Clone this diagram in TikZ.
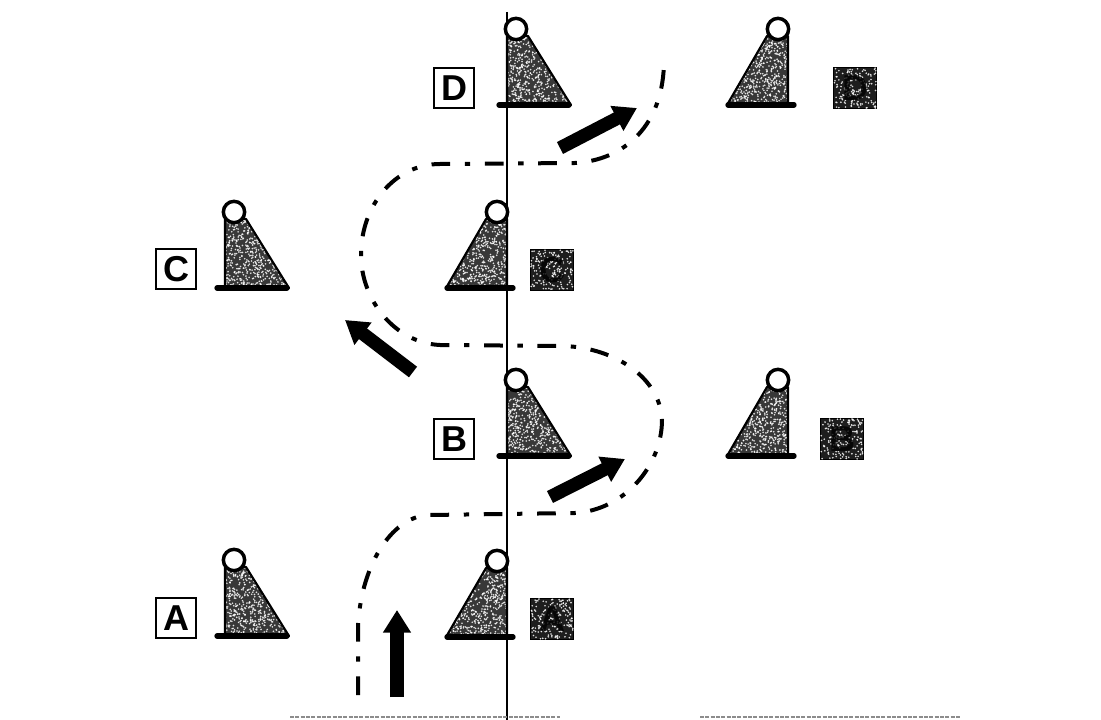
\documentclass[tikz,border=0pt]{standalone}
\usepackage{fontspec}
\setmainfont{Liberation Sans}
\usetikzlibrary{arrows.meta}
\definecolor{stip}{HTML}{383838}
\definecolor{stipdark}{HTML}{1E1E1E}
\newcommand{\stipple}[5]{% x0 y0 w h count
  \foreach \i in {1,...,#5}{
    \pgfmathsetmacro{\sx}{#1+rnd*#3}
    \pgfmathsetmacro{\sy}{#2+rnd*#4}
    \fill[white,opacity=0.85] (\sx,\sy) circle[radius=0.9];
  }
}
\tikzset{
  x=0.75pt,y=-0.75pt,
  wbox/.style={draw=black,line width=1.5pt,fill=white,minimum width=30pt,minimum height=29.5pt,inner sep=0pt,font=\fontsize{27}{27}\bfseries\selectfont,text=black},
  dbox/.style={draw=black,line width=0.8pt,fill=stipdark,minimum width=32pt,minimum height=30.5pt,inner sep=0pt},
  dlabel/.style={inner sep=0pt,font=\fontsize{27}{27}\bfseries\selectfont,text=black,text opacity=0.8},
  pin/.style={circle,draw=black,line width=2.6pt,fill=white,minimum size=16pt,inner sep=0pt},
  conebody/.style={draw=black,line width=1.6pt,line join=round},
  conebase/.style={draw=black,line width=4pt,line cap=round},
  track/.style={draw=black,line width=3pt,dash pattern=on 14pt off 11pt on 4pt off 11pt},
  bigarrow/.style={draw=black,line width=10pt,-{Triangle[length=17pt,width=20pt]}},
  axisline/.style={draw=black,line width=1.1pt},
  scan/.style={draw=black!45,line width=1pt,dash pattern=on 3pt off 1pt},
  leftcone/.pic={
    \fill[stip] (0,-69) -- (21,-69) -- (64,0) -- (0,0) -- cycle;
    \begin{scope}
      \clip (0,-69) -- (21,-69) -- (64,0) -- (0,0) -- cycle;
      \stipple{0}{-69}{64}{69}{640}
    \end{scope}
    \path[conebody] (0,-69) -- (21,-69) -- (64,0) -- (0,0) -- cycle;
    \path[conebase] (-8,0) -- (62,0);
    \node[pin] (-pin) at (9,-76) {};
  },
  rightcone/.pic={
    \fill[stip] (0,-69) -- (-21,-69) -- (-61,0) -- (0,0) -- cycle;
    \begin{scope}
      \clip (0,-69) -- (-21,-69) -- (-61,0) -- (0,0) -- cycle;
      \stipple{-61}{-69}{61}{69}{640}
    \end{scope}
    \path[conebody] (0,-69) -- (-21,-69) -- (-61,0) -- (0,0) -- cycle;
    \path[conebase] (-60,0) -- (6,0);
    \node[pin] (-pin) at (-10,-76) {};
  },
}
\begin{document}
\begin{tikzpicture}
\pgfmathsetseed{4242}
\useasboundingbox (0,0) rectangle (1101,720);
\coordinate (axtop) at (507,12);
\coordinate (axbot) at (507,720);
\draw[axisline] (axtop) -- (axbot);
\coordinate (scanAa) at (290,717); \coordinate (scanAb) at (560,717);
\coordinate (scanBa) at (700,717); \coordinate (scanBb) at (960,717);
\draw[scan] (scanAa) -- (scanAb);
\draw[scan] (scanBa) -- (scanBb);

\pic (cD) at (507,105) {leftcone};
\pic (cB) at (507,456) {leftcone};
\pic (cC) at (225,288) {leftcone};
\pic (cA) at (225,636) {leftcone};
\pic (rD) at (788,105) {rightcone};
\pic (rB) at (788,456) {rightcone};
\pic (rC) at (507,288) {rightcone};
\pic (rA) at (507,637) {rightcone};

\node[wbox] (wD) at (454,88) {D};
\node[wbox] (wB) at (454,439) {B};
\node[wbox] (wC) at (176,269) {C};
\node[wbox] (wA) at (176,618) {A};

\node[dbox] (dD) at (855,88) {};
\stipple{834}{68}{42}{40}{170}
\node[dlabel] (lD) at (855,88) {D};
\node[dbox] (dB) at (842,439) {};
\stipple{821}{419}{42}{40}{170}
\node[dlabel] (lB) at (842,439) {B};
\node[dbox] (dC) at (552,270) {};
\stipple{531}{250}{42}{40}{170}
\node[dlabel] (lC) at (552,270) {C};
\node[dbox] (dA) at (552,619) {};
\stipple{531}{599}{42}{40}{170}
\node[dlabel] (lA) at (552,619) {A};

\coordinate (t0) at (358,695);
\coordinate (t1) at (430,515);
\coordinate (t2) at (662,420);
\coordinate (t3) at (440,345);
\coordinate (t4) at (361,255);
\coordinate (t5) at (440,164);
\coordinate (t6) at (664,60);
\draw[track] (t0) -- (358,625) .. controls (362,560) and (395,515) .. (t1)
  -- (575,513) .. controls (625,510) and (662,465) .. (t2)
  .. controls (660,375) and (610,346) .. (560,346) -- (t3)
  .. controls (395,343) and (361,300) .. (t4)
  .. controls (361,205) and (395,164) .. (t5)
  -- (575,163) .. controls (625,160) and (664,125) .. (t6);

\coordinate (a1s) at (397,697); \coordinate (a1e) at (397,610);
\coordinate (a2s) at (550,497); \coordinate (a2e) at (625,459);
\coordinate (a3s) at (413,372); \coordinate (a3e) at (345,320);
\coordinate (a4s) at (560,148); \coordinate (a4e) at (637,108);
\draw[bigarrow] (a1s) -- (a1e);
\draw[bigarrow] (a2s) -- (a2e);
\draw[bigarrow] (a3s) -- (a3e);
\draw[bigarrow] (a4s) -- (a4e);
\end{tikzpicture}
\end{document}
